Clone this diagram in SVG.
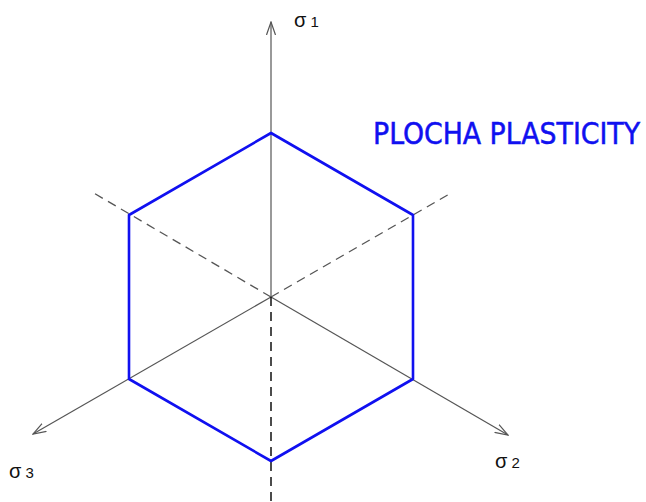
<svg xmlns="http://www.w3.org/2000/svg" width="646" height="502" viewBox="0 0 646 502">
<style>
.ax{stroke:#555;stroke-width:1.2;fill:none}
.dash{stroke:#555;stroke-width:1.3;fill:none;stroke-dasharray:9 6}
.dashk{stroke:#111;stroke-width:1.5;fill:none;stroke-dasharray:9 6}
.hex{stroke:#1010f0;stroke-width:2.6;fill:none;stroke-linejoin:round}
.lbl{font-family:"Liberation Sans",Arial,sans-serif;font-size:15px;fill:#111}
.sig{font-size:20px}
.title{font-family:"DejaVu Sans Condensed","DejaVu Sans",sans-serif;font-size:30px;fill:#1010f0;stroke:#1010f0;stroke-width:0.5}
</style>
<defs>
<marker id="arr" viewBox="0 0 14 10" refX="13" refY="5" markerWidth="14" markerHeight="10" markerUnits="userSpaceOnUse" orient="auto">
<path d="M0,0.5 L13,5 L0,9.5" fill="none" stroke="#555" stroke-width="1.2"/>
</marker>
</defs>
<g id="connectors">
<line class="ax" x1="271" y1="297" x2="271" y2="22" marker-end="url(#arr)"/>
<line class="ax" x1="271" y1="297" x2="33" y2="434" marker-end="url(#arr)"/>
<line class="ax" x1="271" y1="297" x2="508" y2="435" marker-end="url(#arr)"/>
<line class="dash" x1="271" y1="297" x2="92" y2="192"/>
<line class="dash" x1="271" y1="297" x2="451" y2="193"/>
<line class="dashk" x1="271" y1="297" x2="271" y2="502"/>
</g>
<g id="hexagon">
<polygon class="hex" points="271,133 413,215 413,379 271,461 129,379 129,215"/>
</g>
<g id="labels">
<text class="lbl" x="294" y="27"><tspan class="sig">σ</tspan> 1</text>
<text class="lbl" x="9" y="478"><tspan class="sig">σ</tspan> 3</text>
<text class="lbl" x="495" y="468"><tspan class="sig">σ</tspan> 2</text>
<text class="title" x="373" y="144" textLength="267" lengthAdjust="spacingAndGlyphs">PLOCHA PLASTICITY</text>
</g>
</svg>
